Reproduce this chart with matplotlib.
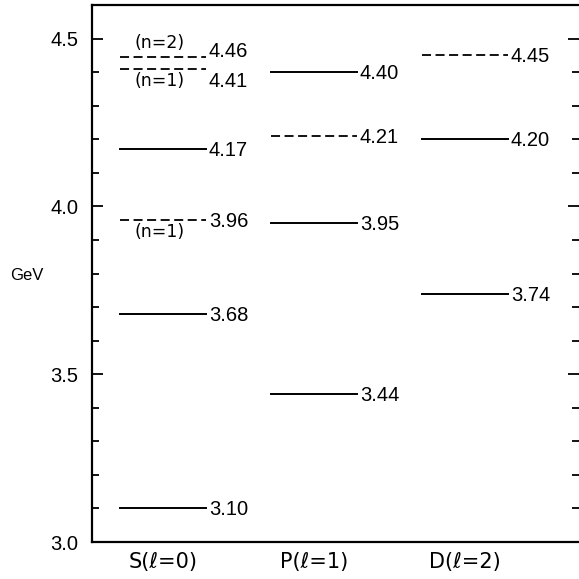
import matplotlib
matplotlib.use("Agg")
import matplotlib.pyplot as plt
from matplotlib.ticker import MultipleLocator

plt.rcParams['font.family'] = ['Liberation Sans', 'DejaVu Sans']

# level energies in GeV as drawn, with their printed labels
columns = ['S(ℓ=0)', 'P(ℓ=1)', 'D(ℓ=2)']

s_levels = [3.10, 3.68, 3.96, 4.17, 4.41, 4.445]
s_labels = ['3.10', '3.68', '3.96', '4.17', '4.41', '4.46']
s_dashed = [False, False, True, False, True, True]

p_levels = [3.44, 3.95, 4.21, 4.40]
p_labels = ['3.44', '3.95', '4.21', '4.40']
p_dashed = [False, False, True, False]

d_levels = [3.74, 4.20, 4.45]
d_labels = ['3.74', '4.20', '4.45']
d_dashed = [False, False, True]

# radial quantum number notes on the S column: (energy, text, side)
s_notes = [(4.445, '(n=2)', 'above'), (4.41, '(n=1)', 'below'), (3.96, '(n=1)', 'below')]

fig = plt.figure(figsize=(5.79, 5.79), dpi=100)
ax = fig.add_axes([92 / 579, 37 / 579, 1 - 92 / 579, 537 / 579])

half = 0.285
data = [(s_levels, s_labels, s_dashed), (p_levels, p_labels, p_dashed),
        (d_levels, d_labels, d_dashed)]

# nudge the labels of the crowded S pair apart (points)
label_shift = {(0, 4): -8, (0, 5): 5}

for i, (levels, labels, dashed) in enumerate(data):
    for j, (e, lab, dsh) in enumerate(zip(levels, labels, dashed)):
        if dsh:
            ax.plot([i - half, i + half], [e, e], color='black', lw=1.3,
                    linestyle=(0, (5, 2.5)), solid_capstyle='butt')
        else:
            ax.plot([i - half, i + half], [e, e], color='black', lw=1.4)
        dy = label_shift.get((i, j), 0)
        ax.annotate(lab, (i + half, e), xytext=(2, dy - 1), textcoords='offset points',
                    ha='left', va='center', fontsize=14.5)

for e, txt, side in s_notes:
    off = 10 if side == 'above' else -9
    ax.annotate(txt, (-0.02, e), xytext=(0, off), textcoords='offset points',
                ha='center', va='center', fontsize=12.5, family='DejaVu Sans')

ax.set_xlim(-0.47, 2.755)
ax.set_ylim(3.0, 4.6)

ax.yaxis.set_major_locator(MultipleLocator(0.5))
ax.yaxis.set_minor_locator(MultipleLocator(0.1))
ax.yaxis.set_major_formatter(plt.FuncFormatter(lambda v, p: f'{v:.1f}'))
ax.tick_params(axis='y', which='both', direction='in', left=True, right=True,
               labelsize=14.5, pad=10, width=1.3)
ax.tick_params(axis='y', which='major', length=8)
ax.tick_params(axis='y', which='minor', length=5)

ax.set_xticks([0, 1, 2])
ax.set_xticklabels(columns, fontsize=15, family='DejaVu Sans')
ax.tick_params(axis='x', length=0, pad=7)

for side in ['left', 'top', 'bottom']:
    ax.spines[side].set_linewidth(1.6)
ax.spines['right'].set_visible(False)

fig.text(27 / 579, 1 - 275 / 579, 'GeV', ha='center', va='center', fontsize=12)

fig.savefig('out.png', dpi=100)
